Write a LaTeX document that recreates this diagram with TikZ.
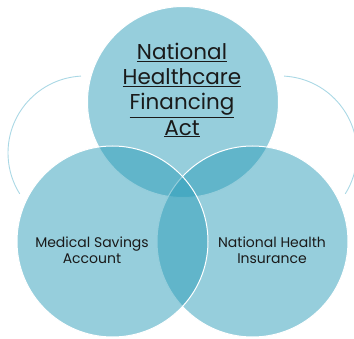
\documentclass[tikz,border=0pt]{standalone}
\usepackage{fontspec}
\setmainfont{Poppins}
\usepackage{tikz}
\definecolor{vennblue}{RGB}{45,157,185}
\definecolor{arcblue}{RGB}{170,216,229}
\definecolor{inktext}{RGB}{26,26,26}
\tikzstyle{venn}=[circle,fill=vennblue,fill opacity=0.5,draw=white,line width=1pt,minimum size=191pt,inner sep=0pt]
\tikzstyle{label}=[align=center,text=inktext,inner sep=0pt]
\tikzstyle{swoosh}=[draw=arcblue,line width=0.9pt]

\begin{document}
\begin{tikzpicture}[x=1pt,y=1pt]
        \useasboundingbox (0,0) rectangle (354,338);
        \node[venn] (act) at (183,236) {};
        \node[venn] (nhi) at (252.5,96.5) {};
        \node[venn] (msa) at (112.5,96.5) {};
        \coordinate (lc) at (85,185);
        \coordinate (rc) at (280,185);
        \draw[swoosh] (lc) ++(93:77) arc (93:212:77);
        \draw[swoosh] (rc) ++(87:77) arc (87:-32:77);
        \node[label,font=\fontsize{21.5}{25.3}\selectfont] (acttext) at (182,248)
            {\underline{National}\\\underline{Healthcare}\\\underline{Financing}\\\underline{Act}};
        \node[label,font=\fontsize{14}{15.5}\selectfont] (msatext) at (92,88) {Medical Savings\\Account};
        \node[label,font=\fontsize{14}{15.5}\selectfont] (nhitext) at (272,88) {National Health\\Insurance};
    \end{tikzpicture}
\end{document}
